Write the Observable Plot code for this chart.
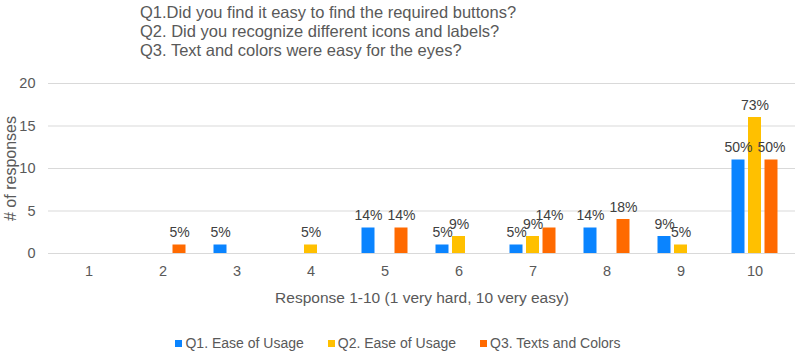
<!DOCTYPE html>
<html><head><meta charset="utf-8">
<script src="https://cdn.jsdelivr.net/npm/d3@7"></script>
<script src="https://cdn.jsdelivr.net/npm/@observablehq/plot@0.6"></script>
<style>
html,body{margin:0;padding:0;background:#fff}
body{width:796px;height:354px;overflow:hidden;position:relative;font-family:"Liberation Sans",Arial,sans-serif;color:#595959}
#title{height:62px;box-sizing:border-box;padding-left:140px;padding-top:2.5px;font-family:"Liberation Sans",Arial,sans-serif;font-size:16.5px;line-height:19px;color:#595959}
#chart svg{display:block}
#legend{position:absolute;left:0;top:335px;width:796px;display:flex;justify-content:center;gap:24px;font-size:14px;line-height:16px;color:#595959}
#legend .item{display:flex;align-items:center}
#legend .sw{width:7px;height:7px;margin-right:3px}
</style>
</head><body>
<div id="title"></div>
<div id="chart"></div>
<div id="legend"></div>
<script>
const titleLines = [
  "Q1.Did you find it easy to find the required buttons?",
  "Q2. Did you recognize different icons and labels?",
  "Q3. Text and colors were easy for the eyes?"
];
const categories = ["1","2","3","4","5","6","7","8","9","10"];
const seriesNames = ["Q1. Ease of Usage","Q2. Ease of Usage","Q3. Texts and Colors"];
const q1 = [0,0,1,0,3,1,1,3,2,11];
const q2 = [0,0,0,1,0,2,2,0,1,16];
const q3 = [0,1,0,0,3,0,3,4,0,11];
const totalResponses = 22;
const yTicks = [0,5,10,15,20];
const xLabel = "Response 1-10 (1 very hard, 10 very easy)";
const yLabel = "# of responses";

const colors = ["#0A84FF","#FFC000","#FF6A00"];
const offsets = [-16.5, 0, 16.5];

document.getElementById("title").innerHTML = titleLines.map(t => `<div>${t}</div>`).join("");
document.getElementById("legend").innerHTML = seriesNames.map((n,i) =>
  `<div class="item"><div class="sw" style="background:${colors[i]}"></div><span>${n}</span></div>`).join("");

const seriesValues = [q1, q2, q3];
const rows = [];
seriesValues.forEach((vals, s) => categories.forEach((c, i) =>
  rows.push({category: c, series: seriesNames[s], s, value: vals[i]})));

const marks = [
  Plot.ruleY(yTicks, {stroke: "#d9d9d9", strokeWidth: 1.2})
];
seriesNames.forEach((name, s) => {
  const data = rows.filter(d => d.s === s && d.value > 0);
  marks.push(Plot.barY(data, {x: "category", y: "value", fill: colors[s], dx: offsets[s]}));
});
seriesNames.forEach((name, s) => {
  const data = rows.filter(d => d.s === s && d.value > 0);
  marks.push(Plot.text(data, {x: "category", y: "value", dx: offsets[s], dy: -8, lineAnchor: "bottom",
    text: d => Math.round(d.value / totalResponses * 100) + "%", fontSize: 14, fill: "#404040"}));
});
marks.push(
  Plot.axisY({ticks: yTicks, tickSize: 0, tickPadding: 13, fontSize: 14.5, label: null}),
  Plot.axisX({tickSize: 0, tickPadding: 12, fontSize: 14.5, label: null}),
  Plot.text([yLabel], {text: d => d, frameAnchor: "left", textAnchor: "middle", lineAnchor: "middle",
    dx: -38, rotate: -90, fontSize: 16, fill: "#595959"}),
  Plot.text([xLabel], {text: d => d, frameAnchor: "bottom", textAnchor: "middle", dy: 45, lineAnchor: "middle", fontSize: 15.5, fill: "#595959"})
);

const chart = Plot.plot({
  width: 796,
  height: 250,
  marginLeft: 48,
  marginRight: 1,
  marginTop: 21,
  marginBottom: 59,
  style: {fontFamily: '"Liberation Sans", Arial, sans-serif', color: "#595959", background: "#fff"},
  x: {domain: categories, paddingInner: 0.826, paddingOuter: 0.413},
  y: {domain: [0, 20]},
  marks
});
document.getElementById("chart").appendChild(chart);
</script>
</body></html>
